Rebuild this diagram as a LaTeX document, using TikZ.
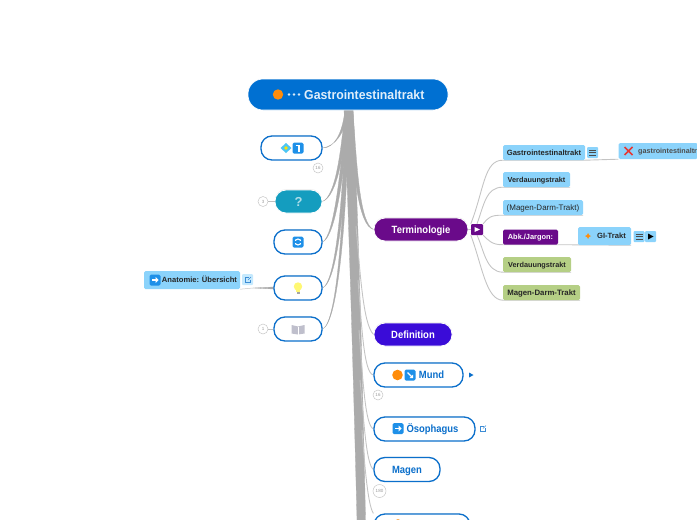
\documentclass[tikz,border=0pt]{standalone}
\usepackage{fontspec}
\setmainfont{Liberation Sans}
\newfontfamily\narrowpill[FakeStretch=0.9]{Liberation Sans}
\newfontfamily\narrowroot[FakeStretch=0.945]{Liberation Sans}
\usetikzlibrary{calc,shadows}
\pgfdeclarelayer{back}
\pgfsetlayers{back,main}
\definecolor{rootblue}{HTML}{0070D2}
\definecolor{linkblue}{HTML}{0B6FCB}
\definecolor{teal1}{HTML}{149DBF}
\definecolor{purp}{HTML}{6A0A8A}
\definecolor{indi}{HTML}{3A0CD8}
\definecolor{sky}{HTML}{8BD3FB}
\definecolor{leaf}{HTML}{B5CF85}
\definecolor{trunk}{HTML}{ABABAB}
\definecolor{thinl}{HTML}{C4C4C4}
\definecolor{iconb}{HTML}{1E90E8}
\definecolor{orng}{HTML}{FF8C0A}
\definecolor{crossred}{HTML}{E53935}
\newcommand{\fs}[1]{\fontsize{#1}{#1}\selectfont}
\newcommand{\bsq}[2]{\fill[iconb,rounded corners=1.5] (#1-5.5,#2-5.5) rectangle (#1+5.5,#2+5.5);}
\newcommand{\wharrow}[2]{\draw[white,line width=1.4] (#1-3,#2) -- (#1+1,#2);\fill[white] (#1+0.5,#2-3) -- (#1+3.6,#2) -- (#1+0.5,#2+3) -- cycle;}
\newcommand{\notes}[2]{\fill[sky,rounded corners=1] (#1-5.5,#2-5.5) rectangle (#1+5.5,#2+5.5);
  \foreach \dd in {-2.5,0,2.5} \draw[black!70,line width=.8] (#1-3.5,#2+\dd) -- (#1+3.5,#2+\dd);}
\newcommand{\linkic}[2]{\draw[linkblue!80,line width=.5] (#1+.5,#2-2.5) -- (#1-2.5,#2-2.5) -- (#1-2.5,#2+2.5) -- (#1+2.5,#2+2.5) -- (#1+2.5,#2-.5);
  \draw[linkblue!80,line width=.5] (#1,#2) -- (#1+3,#2-3);}
\tikzset{
  x=1pt,y=-1pt,
  pillout/.style={draw=linkblue,line width=1.3,fill=white,rounded corners=11,text=linkblue,font=\fs{10.5}\narrowpill\bfseries,text height=7.5pt,text depth=0pt,inner sep=0,drop shadow={shadow xshift=0,shadow yshift=-.8,opacity=.12}},
  pillfill/.style={rounded corners=11,text=white,font=\fs{10.5}\narrowpill\bfseries,text height=7.5pt,text depth=0pt,inner sep=0,draw=white,line width=.8,drop shadow={shadow xshift=0,shadow yshift=-.8,opacity=.18}},
  tag/.style={rounded corners=1.5,inner sep=0,font=\fs{7.6}\bfseries,text height=5.4pt,text depth=0pt,text=black!85,anchor=center},
  skytag/.style={tag,fill=sky},
  leaftag/.style={tag,fill=leaf},
  fork/.style={fill=trunk,draw=trunk,line width=.3},
  twig/.style={draw=thinl,line width=.9},
  counter/.style={circle,draw=black!22,fill=white,line width=.5,minimum size=10,inner sep=0,text=black!40,font=\fs{4.5}},
}
\begin{document}
\begin{tikzpicture}
\useasboundingbox (0,0) rectangle (697,520);
\clip (0,0) rectangle (697,520);
% nodes
\node[rounded corners=15,fill=rootblue,draw=white,line width=.6,minimum width=200,minimum height=31,inner sep=0] (root) at (348,94.5) {};
\node[pillout,minimum width=61,minimum height=24] (n1) at (291.5,148) {};
\node[pillfill,fill=teal1,minimum width=47,minimum height=23,text=white!65!teal1,font=\fs{13}\bfseries,text height=9.3pt] (n2) at (298.5,201.5) {?};
\node[pillout,minimum width=48,minimum height=24] (n3) at (298,242) {};
\node[pillout,minimum width=48,minimum height=24] (n4) at (298,288) {};
\node[pillout,minimum width=48,minimum height=24] (n5) at (298,329) {};
\node[pillfill,fill=purp,minimum width=94,minimum height=23] (term) at (421,229.5) {Terminologie};
\node[pillfill,fill=indi,minimum width=78,minimum height=23] (defi) at (413,334.5) {Definition};
\node[pillout,minimum width=89,minimum height=24] (mund) at (418.5,375) {\hspace*{26pt}Mund};
\node[pillout,minimum width=101,minimum height=24] (oeso) at (424.5,429) {\hspace*{16pt}Ösophagus};
\node[pillout,minimum width=66,minimum height=24] (mage) at (407,469.5) {Magen};
\node[pillout,minimum width=96,minimum height=24] (next) at (422,526) {};
% forks from the root
\coordinate (rs) at ($(root.south)+(1,0)$);
\begin{pgfonlayer}{back}
\draw[fork] ($(rs)+(-5,0)$) .. controls (346,140) and (352,320) .. (357,520) -- (365.5,520) .. controls (362,340) and (356,160) .. ($(rs)+(4,0)$) -- cycle;
\draw[fork] ($(rs)+(-4,0)$) .. controls (342,135) and (334,148) .. (n1.east) .. controls (335,146) and (344,135) .. ($(rs)+(0,0)$) -- cycle;
\draw[fork] ($(rs)+(-4,0)$) .. controls (341,150) and (336,196) .. (n2.east) .. controls (338,196) and (344,150) .. ($(rs)+(0,0)$) -- cycle;
\draw[fork] ($(rs)+(-3,0)$) .. controls (341,170) and (334,236) .. (n3.east) .. controls (336,236) and (345,170) .. ($(rs)+(0,0)$) -- cycle;
\draw[fork] ($(rs)+(-3,0)$) .. controls (343,190) and (337,280) .. (n4.east) .. controls (339,280) and (346,190) .. ($(rs)+(0,0)$) -- cycle;
\draw[fork] ($(rs)+(-3,0)$) .. controls (344,210) and (338,322) .. (n5.east) .. controls (339,322) and (347,210) .. ($(rs)+(0,0)$) -- cycle;
\draw[fork] ($(rs)+(0,0)$) .. controls (353,170) and (358,226) .. (term.west) .. controls (360,224) and (357,170) .. ($(rs)+(4,0)$) -- cycle;
\draw[twig] (356,226) .. controls (360,270) and (363,325) .. (defi.west);
\draw[twig] (358,280) .. controls (362,330) and (364,373) .. (mund.west);
\draw[twig] (359,330) .. controls (363,380) and (365,425) .. (oeso.west);
\draw[twig] (360,380) .. controls (364,420) and (366,464) .. (mage.west);
\draw[twig] (362,430) .. controls (365,470) and (368,505) .. (next.north west);
\end{pgfonlayer}
% root text
\node[text=white!88!rootblue,font=\fs{13}\narrowroot\bfseries,text height=9.3pt,text depth=0pt,inner sep=0,anchor=west] (rootlabel) at (304,94.5) {Gastrointestinaltrakt};
\fill[orng] (278,94.5) circle (5.2);
\foreach \dx in {289,294,299} \fill[white!85!rootblue] (\dx,94.5) circle (1.3);
% icons in the left nodes
\fill[cyan!70!white] (286,143) -- (291.5,148) -- (286,153) -- (280.5,148) -- cycle;
\fill[yellow!85!orange] (286,148) circle (1.8);
\bsq{298}{148}
\draw[white,line width=1.3] (295.5,145.5) -- (299,145.5) -- (299,151.5);
\bsq{298}{242}
\draw[white,line width=1.1] (298,242) circle (3);
\fill[iconb] (294,241) rectangle (296.5,243);
\fill[iconb] (299.5,241) rectangle (302,243);
\fill[yellow!55!white] (298,286.5) circle (4.2);
\fill[yellow!55!white] (296,288) rectangle (300,292);
\fill[black!35] (296.5,292) rectangle (299.5,294);
\fill[blue!20!black!25] (291.5,325) -- (298,326.5) -- (304.5,325) -- (304.5,333.5) -- (298,334.5) -- (291.5,333.5) -- cycle;
\draw[white,line width=.5] (298,326.5) -- (298,334.5);
% counters
\node[counter] (c1) at (318,168) {16};
\node[counter] (c2) at (263,201.5) {3};
\draw[black!25,line width=.6] (c2) -- (n2.west);
\node[counter] (c5) at (263,329) {1};
\draw[black!25,line width=.6] (c5) -- (n5.west);
\node[counter] (c6) at (378,395) {16};
\node[counter,minimum size=13] (c7) at (379.5,491) {180};
% Anatomie
\node[skytag,minimum width=96,minimum height=18] (ana) at (192,280) {\hspace*{15pt}Anatomie: Übersicht};
\bsq{155}{280}
\wharrow{155}{280}
\fill[sky!50!white,rounded corners=1] (242,274) rectangle (253,285);
\linkic{248}{280}
\coordinate (anaend) at (253,288);
\begin{pgfonlayer}{back}
\draw[fork] (anaend) -- ($(n4.west)+(0,-1)$) -- ($(n4.west)+(0,1)$) -- cycle;
\end{pgfonlayer}
\draw[twig,line width=.5] (ana.south east) -- (anaend);
% Mund / Oesophagus icons
\fill[orng] (397.5,375) circle (5.3);
\bsq{410}{375}
\draw[white,line width=1.2] (407.5,372.5) -- (412,377);
\fill[white] (413,378) -- (409.5,378) -- (413,374.5) -- cycle;
\fill[linkblue] (469,372.5) -- (473.5,375) -- (469,377.5) -- cycle;
\bsq{398}{428.5}
\wharrow{398}{428.5}
\linkic{483}{428.5}
\fill[orng] (398,524.5) circle (5.3);
% sub branch button
\node[fill=purp,rounded corners=1,minimum width=12,minimum height=11,inner sep=0] (btn) at (477,229.5) {};
\fill[white] (474.5,227) -- (480,229.5) -- (474.5,232) -- cycle;
\begin{pgfonlayer}{back}
\draw[twig,line width=1.5] (term.east) -- (btn.west);
\end{pgfonlayer}
% right tags
\node[skytag,minimum width=82,minimum height=15] (g1) at (544,152.5) {Gastrointestinaltrakt};
\notes{592.5}{152.5}
\node[skytag,minimum width=79,minimum height=16] (g1x) at (658,151) {};
\node[inner sep=0,anchor=west,font=\fs{7.2}\bfseries,text height=5.2pt,text depth=0pt,text=black!70] (g1xl) at (638,151) {gastrointestinaltrakt};
\draw[crossred,line width=1.6] (624.5,147) -- (632.5,155) (632.5,147) -- (624.5,155);
\node[skytag,minimum width=67,minimum height=15,font=\fs{7.3}\bfseries] (g2) at (536.5,179.5) {Verdauungstrakt};
\node[skytag,minimum width=80,minimum height=15,font=\fs{8}] (g3) at (543,207.5) {(Magen-Darm-Trakt)};
\node[tag,fill=purp,text=white,minimum width=55,minimum height=15,font=\fs{7.4}\bfseries] (g4) at (530.5,237) {Abk./Jargon:};
\node[skytag,minimum width=53,minimum height=18] (g4x) at (604.5,236) {\hspace*{14pt}GI-Trakt};
\fill[orng] (588,233) -- (589,235) -- (591,236) -- (589,237) -- (588,239) -- (587,237) -- (585,236) -- (587,235) -- cycle;
\notes{639}{236.5}
\fill[sky,rounded corners=1] (645,231) rectangle (656,242);
\fill[black] (648,233.5) -- (653.5,236.5) -- (648,239.5) -- cycle;
\node[leaftag,minimum width=68,minimum height=15,font=\fs{7.3}\bfseries] (g5) at (537,264.5) {Verdauungstrakt};
\node[leaftag,minimum width=77,minimum height=15,font=\fs{7.8}\bfseries] (g6) at (541.5,292.5) {Magen-Darm-Trakt};
% twigs
\begin{pgfonlayer}{back}
\draw[twig] (btn.north west) .. controls (484,190) and (484,160) .. (g1.south west) -- (g1.south east) -- (g1x.south west);
\draw[twig] (btn.north) .. controls (484,205) and (486,187) .. (g2.south west) -- (g2.south east);
\draw[twig] (btn.north east) .. controls (488,218) and (490,215) .. (g3.south west) -- (g3.south east);
\draw[twig] (btn.south east) .. controls (488,240) and (492,245) .. (g4.south west) -- (g4.south east) -- (g4x.south east);
\draw[twig] (btn.south) .. controls (484,250) and (486,272) .. (g5.south west) -- (g5.south east);
\draw[twig] (btn.south west) .. controls (482,265) and (486,300) .. (g6.south west) -- (g6.south east);
\end{pgfonlayer}
\end{tikzpicture}
\end{document}
